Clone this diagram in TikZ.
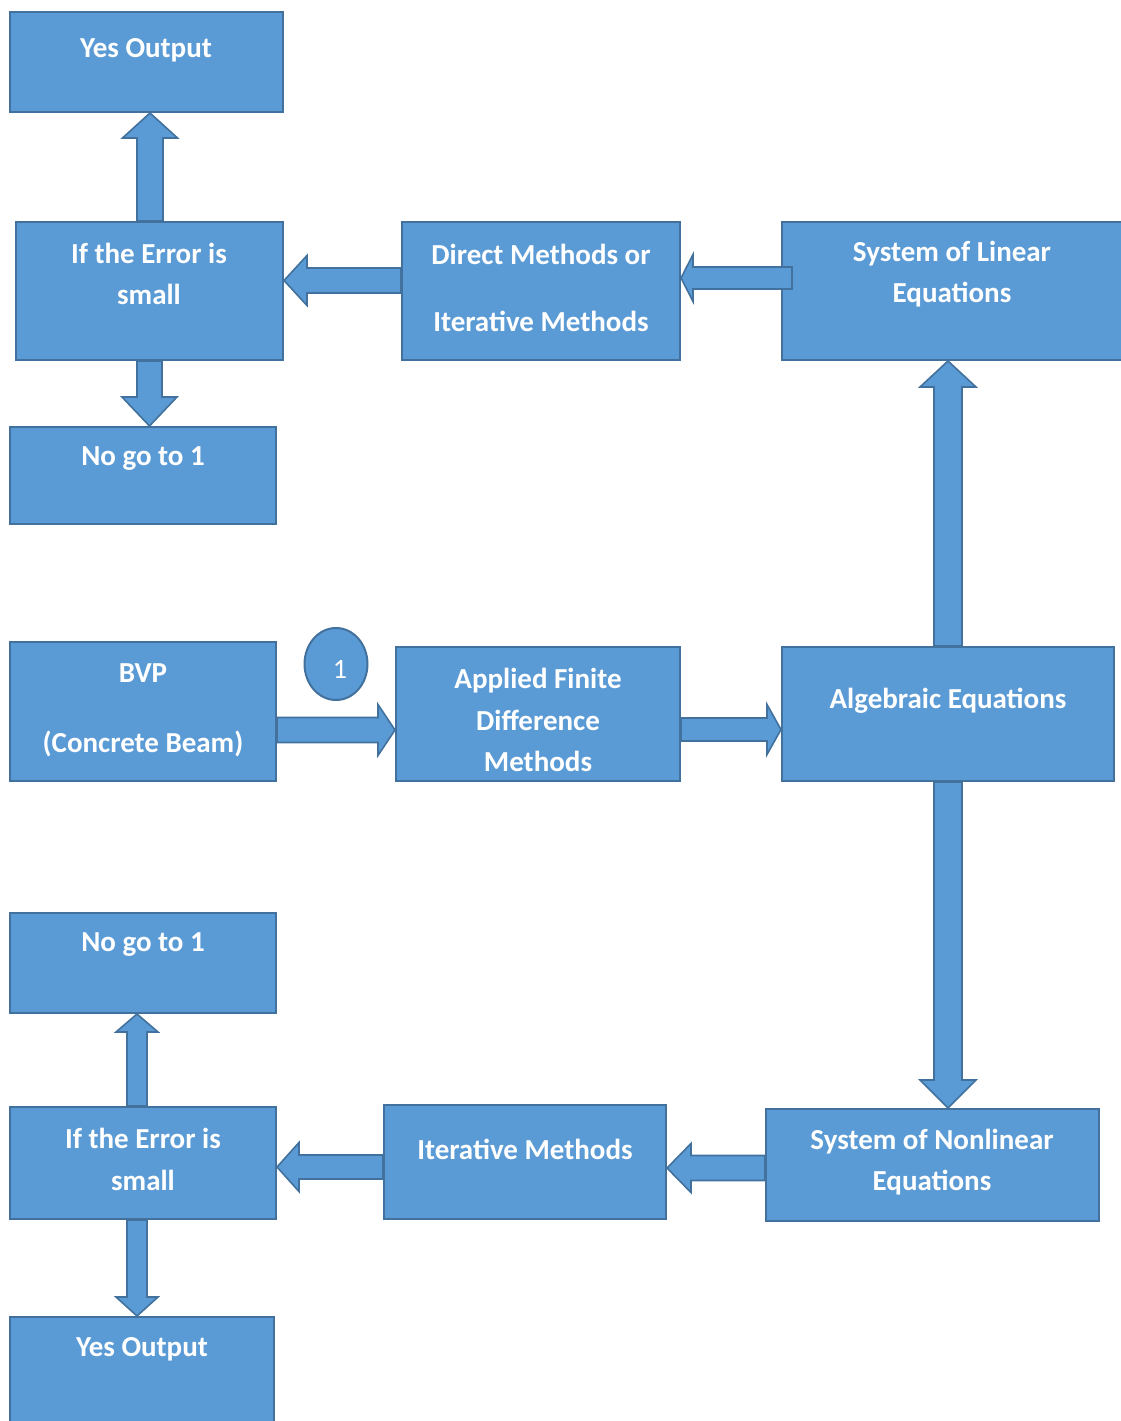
\documentclass[tikz,border=0pt]{standalone}
\usepackage{fontspec}
\setmainfont{Carlito}
\usetikzlibrary{calc,shapes.geometric}

\definecolor{boxfill}{HTML}{5B9BD5}
\definecolor{edge}{HTML}{41719C}

\tikzset{
  box/.style={draw=edge, fill=boxfill, line width=2pt, rectangle, inner sep=0pt},
  fat/.style={draw=edge, fill=boxfill, line width=1.6pt, line join=miter},
  txt/.style={text=white, align=center, inner sep=0pt,
    font=\bfseries\fontsize{29}{41.5}\selectfont}
}

% block arrow: from, to, shaft half width, head half width, head length
\newcommand{\fatarrow}[5]{%
  \coordinate (fa) at #1;
  \coordinate (fb) at #2;
  \coordinate (fh) at ($(fb)!#5!(fa)$);
  \draw[fat] ($(fa)!#3!90:(fb)$) -- ($(fh)!#3!-90:(fa)$) -- ($(fh)!#4!-90:(fa)$)
    -- (fb) -- ($(fh)!#4!90:(fa)$) -- ($(fh)!#3!90:(fa)$) -- ($(fa)!#3!-90:(fb)$) -- cycle;}

\begin{document}
\begin{tikzpicture}[x=1pt, y=-1pt]
    \clip (0,0) rectangle (1121,1421);

    % upper branch
    \node [box, minimum width=273, minimum height=100] (yesA) at (146.5,62) {};
    \node [box, minimum width=267, minimum height=138] (errA) at (149.5,291) {};
    \node [box, minimum width=266, minimum height=97] (noA) at (143,475.5) {};
    \node [box, minimum width=278, minimum height=138] (dirm) at (541,291) {};
    \node [box, minimum width=340, minimum height=138] (linr) at (952,291) {};

    % middle row
    \node [box, minimum width=266, minimum height=139] (bvp) at (143,711.5) {};
    \node [ellipse, draw=edge, fill=boxfill, line width=2pt,
    minimum width=63, minimum height=72] (one) at (336,664) {};
    \node [box, minimum width=284, minimum height=134] (afdm) at (538,714) {};
    \node [box, minimum width=332, minimum height=134] (alg) at (948,714) {};

    % lower branch
    \node [box, minimum width=266, minimum height=100] (noB) at (143,963) {};
    \node [box, minimum width=266, minimum height=112] (errB) at (143,1163) {};
    \node [box, minimum width=282, minimum height=114] (itm) at (525,1162) {};
    \node [box, minimum width=333, minimum height=112] (nonl) at (932.5,1165) {};
    \node [box, minimum width=264, minimum height=122] (yesB) at (142,1378) {};

    % texts
    \node [txt] (yesAt) at (146,50) {Yes Output};
    \node [txt] (errAt) at (149,274) {If the Error is\\small};
    \node [txt] (noAt) at (143,459) {No go to 1};
    \node [txt] (dirmt) at (541,287.5) {Direct Methods or\\[25.5pt]Iterative Methods};
    \node [txt] (linrt) at (952,274) {System of Linear\\Equations};
    \node [txt] (bvpt) at (143,710) {BVP\\[28.5pt](Concrete Beam)};
    \node [text=white, font=\fontsize{28}{30}\selectfont] (onet) at (340,669) {1};
    \node [txt] (afdmt) at (538,720) {Applied Finite\\Difference\\Methods};
    \node [txt] (algt) at (948,701) {Algebraic Equations};
    \node [txt] (noBt) at (143,945) {No go to 1};
    \node [txt] (errBt) at (143,1159.5) {If the Error is\\small};
    \node [txt] (itmt) at (525,1149) {Iterative Methods};
    \node [txt] (nonlt) at (932,1162) {System of Nonlinear\\Equations};
    \node [txt] (yesBt) at (142,1349) {Yes Output};

    % block arrows
    \fatarrow{([xshift=0.5pt]errA.north)}{([xshift=0.5pt]errA.north |- yesA.south)}{13pt}{27.5pt}{25pt}
    \fatarrow{(errA.south)}{(errA.south |- noA.north)}{12.5pt}{27.5pt}{29pt}
    \fatarrow{([yshift=10.5pt]dirm.west)}{([yshift=10.5pt]errA.east)}{12.5pt}{25pt}{23pt}
    \fatarrow{([xshift=11pt,yshift=13pt]linr.west)}{([yshift=13pt]dirm.east)}{11pt}{23.5pt}{12pt}
    \fatarrow{(alg.north)}{(alg.north |- linr.south)}{14pt}{28pt}{26pt}
    \fatarrow{([yshift=-18.5pt]bvp.east)}{([yshift=-18.5pt]bvp.east -| afdm.west)}{12.5pt}{25.5pt}{17pt}
    \fatarrow{([yshift=-15.5pt]afdm.east)}{([yshift=-15.5pt]afdm.east -| alg.west)}{11.5pt}{25pt}{14pt}
    \fatarrow{(alg.south)}{(alg.south |- nonl.north)}{14pt}{28pt}{28pt}
    \fatarrow{([yshift=-3pt]nonl.west)}{([yshift=-3pt]nonl.west -| itm.east)}{12.5pt}{24.5pt}{24pt}
    \fatarrow{([yshift=-5pt]itm.west)}{([yshift=-5pt]itm.west -| errB.east)}{12pt}{24.5pt}{22pt}
    \fatarrow{([xshift=-6pt]errB.north)}{([xshift=-6pt]errB.north |- noB.south)}{10pt}{21pt}{18pt}
    \fatarrow{([xshift=-6pt]errB.south)}{([xshift=-6pt]errB.south |- yesB.north)}{10pt}{21pt}{19pt}
\end{tikzpicture}
\end{document}
